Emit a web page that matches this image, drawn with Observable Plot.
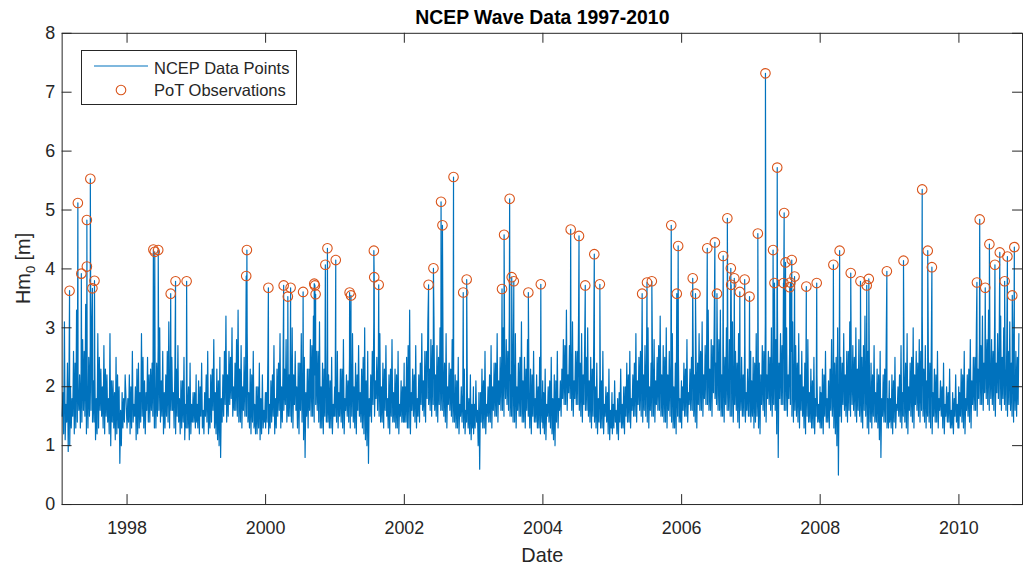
<!DOCTYPE html>
<html><head><meta charset="utf-8">
<script src="https://cdn.jsdelivr.net/npm/d3@7"></script>
<script src="https://cdn.jsdelivr.net/npm/@observablehq/plot@0.6"></script>
<style>
html,body{margin:0;padding:0;background:#fff;overflow:hidden;}
#wrap{position:relative;width:1024px;height:567px;overflow:hidden;font-family:"Liberation Sans",Arial,sans-serif;}
#legend{position:absolute;left:81px;top:50px;}
</style></head><body><div id="wrap"></div>
<script>
// Sampled Hm0 values (m), 4-day sampling from the start of each year (1997 from 24 Jan).
// "hm" holds the samples on days 0,12,16,28,32,44,... ; "bm" those on days 4,8,20,24,36,40,...
const hm1997 = [1.5,3.1,1.1,2.4,0.9,2.0,1.3,2.6,1.2,3.3, 1.4,2.2,1.3,2.8,1.6,3.4,1.2,2.5,1.5,3.0, 1.4,2.4,1.1,2.9,1.3,2.3,1.5,2.7,1.2,2.2, 1.4,2.9,1.0,2.1,1.3,2.5,1.2,2.0,0.7,1.9, 1.3,2.2];
const hm1998 = [1.3,2.2,1.2,2.6,1.4,2.0,1.1,2.4,1.3,2.9,1.5,2.1, 1.2,2.5,1.4,2.3,1.6,2.8,1.3,2.4,1.5,3.0, 1.4,2.6,1.2,2.2,1.5,3.1,1.3,2.5,1.6,2.3, 1.2,2.7,1.4,2.1,1.3,2.5,1.1,2.0,1.3,2.4, 1.2,1.9,1.4,2.2];
const hm1999 = [1.4,2.1,1.2,2.4,1.3,1.9,1.5,2.6,1.2,2.2,1.4,2.8, 1.3,2.3,1.1,2.5,0.8,2.2,1.5,3.2,1.4,2.6, 1.7,3.0,1.5,2.4,1.6,3.3,1.4,2.7,1.3,2.5, 1.5,2.9,1.4,2.3,1.2,2.6,1.3,2.0,1.2,2.4, 1.1,2.2,1.3,1.9];
const hm2000 = [1.3,2.5,1.2,2.1,1.4,2.7,1.2,2.3,1.5,2.9,1.3,2.4, 1.6,2.8,1.4,2.2,1.5,3.0,1.3,2.6,1.6,2.4, 1.2,2.9,1.4,2.5,0.8,2.3,1.3,2.8,1.5,3.2, 1.4,2.6,1.6,3.1,1.3,2.4,1.2,2.7,1.4,2.2, 1.3,2.5,1.2,2.0];
const hm2001 = [1.5,2.6,1.3,2.3,1.4,2.8,1.2,2.2,1.5,2.5,1.3,2.9, 1.4,2.4,1.2,2.7,1.5,2.3,1.3,3.0,1.1,2.6, 0.7,2.2,1.4,3.1,1.5,2.5,1.6,2.9,1.4,2.4, 1.3,2.7,1.5,2.2,1.2,2.8,1.4,2.3,1.3,2.6, 1.2,2.1,1.4,2.4];
const hm2002 = [1.4,2.5,1.3,3.3,1.2,2.3,1.5,2.7,1.3,2.2,1.4,2.9, 1.6,2.6,1.4,3.1,1.7,2.8,1.5,3.2,1.6,2.7, 1.4,3.0,1.6,2.5,1.5,2.9,1.3,2.4,1.6,2.8, 1.4,2.2,1.3,2.5,1.2,2.0,1.4,2.3,1.2,1.9, 1.3,2.2,1.1,2.0];
const hm2003 = [1.2,2.1,1.4,1.9,0.6,2.3,1.3,2.6,1.2,2.0,1.4,2.7, 1.3,2.4,1.5,2.9,1.4,2.5,1.6,3.0,1.5,2.8, 1.7,3.2,1.5,2.6,1.4,2.9,1.3,2.4,1.5,3.1, 1.4,2.5,1.3,2.8,1.5,2.3,1.2,2.6,1.4,2.2, 1.3,2.5,1.2,2.1];
const hm2004 = [1.3,2.3,1.1,2.0,1.4,2.5,1.2,2.2,1.0,2.6,1.3,2.1, 1.5,2.8,1.7,3.3,1.6,2.7,1.8,3.1,1.5,2.6, 1.7,3.2,1.6,2.9,1.4,2.7,1.6,3.0,1.5,2.5, 1.3,2.8,1.4,2.4,1.2,2.2,1.3,2.6,1.2,2.0, 1.4,2.3,1.1,1.9];
const hm2005 = [1.2,2.1,1.4,1.8,1.1,2.3,1.3,2.0,1.2,2.4,1.4,2.6, 1.3,2.2,1.5,2.9,1.4,2.5,1.6,3.1,1.4,2.7, 1.5,3.0,1.3,2.4,1.5,2.8,1.4,2.5,1.6,3.2, 1.5,2.7,1.4,3.0,1.3,2.6,1.5,2.9,1.3,2.4, 1.2,2.5,1.4,2.1];
const hm2006 = [1.3,2.4,1.5,2.8,1.4,2.3,1.6,3.0,1.5,2.6,1.3,2.9, 1.6,3.1,1.5,2.7,1.7,3.3,1.6,2.8,1.5,3.2, 1.8,2.9,1.6,3.3,1.5,2.7,1.4,3.0,1.6,2.8, 1.5,3.1,1.4,2.6,1.6,2.9,1.3,2.5,1.5,2.7, 1.4,2.3,1.5,2.6];
const hm2007 = [1.4,2.5,1.3,2.9,1.5,2.4,1.2,2.7,1.6,3.1,1.4,2.6, 1.7,3.0,1.5,2.8,1.6,3.3,0.8,2.9,1.7,3.2, 1.6,3.0,1.5,2.6,1.7,3.1,1.4,2.7,1.5,2.9, 1.3,2.6,1.5,2.4,1.2,2.8,1.4,2.3,1.3,2.5, 1.2,2.2,1.4,2.0];
const hm2008 = [1.3,2.3,1.2,2.6,1.4,2.1,1.3,2.8,1.5,2.4,1.2,3.0, 0.5,2.5,1.4,2.9,1.6,2.6,1.4,3.1,1.5,2.7, 1.6,3.0,1.4,2.8,1.5,2.5,1.3,3.2,1.5,2.6, 1.2,2.4,1.3,2.7,1.4,2.3,1.3,2.6,0.8,2.2, 1.4,2.8,1.3,2.1];
const hm2009 = [1.4,2.2,1.2,2.5,1.3,2.0,1.5,2.7,1.3,2.3,1.4,2.9, 1.2,2.4,1.5,3.0,1.3,2.6,1.6,2.8,1.4,3.2, 1.5,2.7,1.3,2.5,1.4,2.9,1.2,2.3,1.4,2.6, 1.3,2.1,1.5,2.4,1.2,2.0,1.4,2.3,1.3,1.9, 1.2,2.2,1.4,2.0];
const hm2010 = [1.3,2.3,1.4,2.6,1.2,2.2,1.5,2.8,1.3,2.5,1.6,3.0, 1.5,2.7,1.7,3.2,1.6,2.9,1.8,3.3,1.6,2.8, 1.7,3.1,1.5,2.9,1.8,3.2,1.6,3.0,1.7,2.7, 1.5,3.1,1.6,2.8,1.4,2.6,1.5,2.9];

const bm1997 = [1.9,1.2,1.7,1.4,2.2,1.0,1.8,1.5,2.4,1.3, 1.9,1.6,2.3,1.4,2.6,1.5,2.0,1.3,2.7,1.6, 2.1,1.4,1.8,1.2,2.5,1.6,2.0,1.3,2.3,1.5, 1.8,1.2,2.1,1.4,1.9,1.1,2.2,1.3,1.6,1.0, 1.8,1.4];
const bm1998 = [1.8,1.4,2.0,1.3,1.7,1.5,2.3,1.2,1.9,1.4,2.5,1.3, 1.9,1.6,2.2,1.4,2.4,1.5,2.0,1.3,2.7,1.6, 2.1,1.5,1.9,1.3,2.6,1.4,2.2,1.6,1.9,1.3, 2.3,1.5,1.8,1.2,2.1,1.4,1.7,1.3,2.0,1.1, 1.7,1.4,1.9,1.3];
const bm1999 = [1.7,1.3,2.0,1.5,1.6,1.2,2.2,1.4,1.8,1.3,2.3,1.6, 1.9,1.2,2.1,1.0,1.8,1.4,2.6,1.7,2.2,1.5, 2.5,1.8,2.0,1.6,2.8,1.5,2.3,1.4,2.0,1.6, 2.4,1.5,1.9,1.3,2.2,1.4,1.7,1.2,2.0,1.3, 1.8,1.2,1.6,1.4];
const bm2000 = [1.9,1.4,1.7,1.3,2.2,1.5,1.8,1.3,2.4,1.6,2.0,1.4, 2.3,1.7,1.9,1.5,2.6,1.4,2.2,1.7,2.0,1.3, 2.4,1.6,2.1,1.1,1.9,1.5,2.3,1.6,2.7,1.5, 2.2,1.7,2.6,1.4,2.0,1.3,2.3,1.5,1.8,1.4, 2.1,1.3,1.7,1.5];
const bm2001 = [2.1,1.4,1.9,1.5,2.3,1.3,1.8,1.6,2.1,1.4,2.4,1.5, 2.0,1.3,2.2,1.6,1.9,1.4,2.5,1.2,2.1,1.0, 1.8,1.5,2.6,1.7,2.1,1.8,2.4,1.5,2.0,1.4, 2.3,1.6,1.8,1.3,2.3,1.5,1.9,1.4,2.2,1.3, 1.7,1.5,2.0,1.4];
const bm2002 = [2.0,1.4,2.7,1.3,1.9,1.6,2.2,1.4,1.8,1.5,2.4,1.7, 2.1,1.5,2.6,1.8,2.3,1.6,2.7,1.7,2.2,1.5, 2.5,1.7,2.1,1.6,2.4,1.4,2.0,1.7,2.3,1.5, 1.9,1.4,2.1,1.3,1.7,1.5,1.9,1.3,1.6,1.4, 1.8,1.2,1.7,1.3];
const bm2003 = [1.7,1.3,1.6,1.0,1.9,1.4,2.1,1.3,1.7,1.5,2.2,1.4, 2.0,1.6,2.4,1.5,2.1,1.7,2.5,1.6,2.3,1.8, 2.6,1.6,2.2,1.5,2.4,1.4,2.0,1.6,2.5,1.5, 2.1,1.4,2.3,1.6,1.9,1.3,2.2,1.5,1.8,1.4, 2.0,1.3,1.7,1.4];
const bm2004 = [1.9,1.2,1.7,1.5,2.1,1.3,1.8,1.1,2.1,1.4,1.8,1.6, 2.3,1.8,2.7,1.7,2.2,1.9,2.6,1.6,2.1,1.8, 2.6,1.7,2.4,1.5,2.2,1.7,2.5,1.6,2.1,1.4, 2.3,1.5,2.0,1.3,1.8,1.4,2.1,1.3,1.7,1.5, 1.9,1.2,1.6,1.3];
const bm2005 = [1.7,1.3,1.6,1.2,1.9,1.4,1.7,1.3,2.0,1.5,2.2,1.4, 1.8,1.6,2.4,1.5,2.1,1.7,2.6,1.5,2.2,1.6, 2.5,1.4,2.0,1.6,2.3,1.5,2.1,1.7,2.7,1.6, 2.2,1.5,2.5,1.4,2.2,1.6,2.4,1.4,2.0,1.3, 2.1,1.5,1.8,1.4];
const bm2006 = [2.0,1.6,2.3,1.5,1.9,1.7,2.5,1.6,2.2,1.4,2.4,1.7, 2.6,1.6,2.2,1.8,2.8,1.7,2.3,1.6,2.7,1.9, 2.4,1.7,2.8,1.6,2.2,1.5,2.5,1.7,2.3,1.6, 2.6,1.5,2.2,1.7,2.4,1.4,2.1,1.6,2.2,1.5, 1.9,1.6,2.2,1.5];
const bm2007 = [2.1,1.5,2.4,1.4,2.0,1.3,2.2,1.7,2.6,1.5,2.2,1.8, 2.5,1.6,2.3,1.7,2.8,1.2,2.4,1.8,2.7,1.7, 2.5,1.6,2.2,1.8,2.6,1.5,2.3,1.6,2.4,1.4, 2.2,1.6,2.0,1.3,2.3,1.5,1.9,1.4,2.1,1.3, 1.8,1.5,1.7,1.4];
const bm2008 = [1.9,1.3,2.2,1.5,1.8,1.4,2.3,1.6,2.0,1.3,2.5,1.0, 2.1,1.5,2.4,1.7,2.2,1.5,2.6,1.6,2.3,1.7, 2.5,1.5,2.3,1.6,2.1,1.4,2.7,1.6,2.2,1.3, 2.0,1.4,2.2,1.5,1.9,1.4,2.2,1.1,1.8,1.5, 2.3,1.4,1.8,1.3];
const bm2009 = [1.8,1.3,2.1,1.4,1.7,1.6,2.2,1.4,1.9,1.5,2.4,1.3, 2.0,1.6,2.5,1.4,2.2,1.7,2.4,1.5,2.6,1.6, 2.3,1.4,2.1,1.5,2.4,1.3,1.9,1.5,2.2,1.4, 1.8,1.6,2.0,1.3,1.7,1.5,1.9,1.4,1.6,1.3, 1.8,1.5,1.7,1.3];
const bm2010 = [1.9,1.5,2.2,1.3,1.8,1.6,2.3,1.4,2.1,1.7,2.5,1.6, 2.3,1.8,2.7,1.7,2.4,1.9,2.8,1.7,2.4,1.8, 2.6,1.6,2.4,1.9,2.7,1.7,2.5,1.8,2.3,1.6, 2.6,1.7,2.4,1.5,2.2,1.6,2.5,1.7];

// Peak-over-threshold observations (decimal year, Hm0)
const potYear = [1997.17,1997.29,1997.34,1997.42,1997.42,1997.47,1997.53,1997.50,
 1998.38,1998.40,1998.45,1998.63,1998.70,1998.86,
 1999.72,1999.73,
 2000.04,2000.26,2000.32,2000.36,2000.54,2000.70,2000.71,2000.72,2000.86,2000.89,
 2001.01,2001.21,2001.23,2001.56,2001.565,2001.63,
 2002.35,2002.42,2002.53,2002.55,2002.71,2002.85,2002.90,
 2003.41,2003.44,2003.52,2003.55,2003.58,2003.79,2003.97,
 2004.40,2004.52,2004.61,2004.74,2004.82,
 2005.43,2005.50,2005.57,2005.85,2005.93,2005.95,
 2006.16,2006.20,2006.37,2006.48,2006.51,2006.60,2006.66,2006.71,2006.76,2006.715,2006.84,2006.91,2006.98,
 2007.10,2007.21,2007.32,2007.34,2007.38,2007.47,2007.48,2007.50,2007.59,2007.57,2007.56,2007.63,2007.80,2007.95,
 2008.19,2008.28,2008.44,2008.58,2008.67,2008.70,2008.96,
 2009.20,2009.47,2009.55,2009.61,
 2010.26,2010.30,2010.38,2010.44,2010.52,2010.59,2010.66,2010.70,2010.80,2010.77];
const potHm = [3.63,5.12,3.92,4.04,4.83,5.53,3.80,3.67,
 4.33,4.29,4.32,3.58,3.79,3.79,
 3.88,4.32,
 3.68,3.72,3.53,3.68,3.61,3.75,3.72,3.57,4.07,4.35,
 4.15,3.60,3.55,4.31,3.86,3.73,
 3.73,4.01,5.14,4.74,5.56,3.60,3.82,
 3.66,4.58,5.19,3.86,3.79,3.60,3.74,
 4.67,4.56,3.72,4.25,3.74,
 3.58,3.77,3.79,4.74,3.58,4.39,
 3.84,3.58,4.35,4.45,3.58,4.22,4.86,4.01,3.84,3.73,3.61,3.82,3.53,
 4.60,7.32,4.32,3.76,5.72,3.76,4.95,4.11,4.15,3.77,3.69,3.87,3.70,3.76,
 4.07,4.31,3.93,3.79,3.72,3.83,3.96,
 4.14,5.35,4.31,4.03,
 3.77,4.84,3.68,4.42,4.07,4.28,3.79,4.21,4.37,3.55];

const tickYears = [1998,2000,2002,2004,2006,2008,2010];
const yTicks = [0,1,2,3,4,5,6,7,8];
const titleText = "NCEP Wave Data 1997-2010";
const xLabel = "Date";

// ---- build tables ----
const yearSeries = [[1997,hm1997,bm1997],[1998,hm1998,bm1998],[1999,hm1999,bm1999],[2000,hm2000,bm2000],[2001,hm2001,bm2001],[2002,hm2002,bm2002],[2003,hm2003,bm2003],[2004,hm2004,bm2004],[2005,hm2005,bm2005],[2006,hm2006,bm2006],[2007,hm2007,bm2007],[2008,hm2008,bm2008],[2009,hm2009,bm2009],[2010,hm2010,bm2010]];
const samples = [];
for (const [yr, a, b] of yearSeries) {
  const start = yr === 1997 ? 23 : 0;
  a.forEach((v, i) => samples.push({date: new Date(Date.UTC(yr, 0, 1 + start + 8 * i + (i % 2 ? 4 : 0))), hm: v}));
  b.forEach((v, i) => samples.push({date: new Date(Date.UTC(yr, 0, 1 + start + 8 * i + (i % 2 ? 0 : 4))), hm: v}));
}
const decToDate = y => { const Y = Math.floor(y); const a = Date.UTC(Y,0,1), b = Date.UTC(Y+1,0,1); return new Date(a + (y - Y) * (b - a)); };
const pot = potYear.map((y, i) => ({date: decToDate(y), hm: potHm[i]}));
const lineData = samples.concat(pot).sort((a, b) => a.date - b.date);

const W = 1030, H = 567, mL = 62, mR = 2, mT = 33, mB = 60;
const innerW = W - mL - mR, innerH = H - mT - mB;
const xTicks = tickYears.map(y => new Date(Date.UTC(y, 0, 1)));
const ink = "#262626";

const plot = Plot.plot({
  width: W, height: H,
  marginLeft: mL, marginRight: mR, marginTop: mT, marginBottom: mB,
  style: {fontFamily: "Liberation Sans, Arial, sans-serif", fontSize: "18px", color: ink, background: "white", overflow: "visible"},
  x: {type: "utc", domain: [new Date(Date.UTC(1997,0,24)), new Date(Date.UTC(2010,11,2))]},
  y: {domain: [0, 8]},
  marks: [
    Plot.line(lineData, {x: "date", y: "hm", stroke: "#0072BD", strokeWidth: 1.2}),
    Plot.dot(pot, {x: "date", y: "hm", r: 4.8, stroke: "#D95319", strokeWidth: 1.1, fill: "none"}),
    Plot.frame({stroke: ink, strokeWidth: 1}),
    Plot.ruleX(xTicks, {insetTop: innerH - 10, stroke: ink}),
    Plot.ruleX(xTicks, {insetBottom: innerH - 10, stroke: ink}),
    Plot.ruleY(yTicks, {insetRight: innerW - 10, stroke: ink}),
    Plot.ruleY(yTicks, {insetLeft: innerW - 10, stroke: ink}),
    Plot.axisX(xTicks, {tickSize: 0, tickPadding: 17, tickFormat: d3.utcFormat("%Y"), label: null, fill: ink}),
    Plot.axisY(yTicks, {tickSize: 0, tickPadding: 7, tickFormat: d3.format("d"), label: null, fill: ink}),
    Plot.text([xLabel], {frameAnchor: "bottom", lineAnchor: "middle", dy: 51, fontSize: 20, fill: ink}),
    Plot.text([titleText], {frameAnchor: "top", lineAnchor: "middle", dy: -16, fontSize: 19.5, fontWeight: "bold", fill: "#000"})
  ]
});

// y-axis label with subscript
const svg = d3.select(plot);
const yl = svg.append("text")
  .attr("transform", "translate(30,270) rotate(-90)")
  .attr("text-anchor", "middle")
  .attr("font-size", 20)
  .attr("fill", ink);
yl.append("tspan").text("Hm");
yl.append("tspan").attr("font-size", 13).attr("dy", 5).text("0");
yl.append("tspan").attr("dy", -5).text(" [m]");

const wrap = document.getElementById("wrap");
wrap.appendChild(plot);

// legend
const lg = d3.select(wrap).append("svg").attr("id", "legend").attr("width", 217).attr("height", 56)
  .style("font-family", "Liberation Sans, Arial, sans-serif");
lg.append("rect").attr("x", 0.5).attr("y", 0.5).attr("width", 215).attr("height", 54).attr("fill", "white").attr("stroke", ink);
lg.append("line").attr("x1", 13).attr("x2", 67).attr("y1", 16).attr("y2", 16).attr("stroke", "#0072BD").attr("stroke-width", 1.2);
lg.append("circle").attr("cx", 40).attr("cy", 40).attr("r", 4.8).attr("fill", "none").attr("stroke", "#D95319").attr("stroke-width", 1.1);
lg.append("text").attr("x", 73).attr("y", 18).attr("dy", "0.35em").attr("font-size", 16.5).attr("fill", ink).text("NCEP Data Points");
lg.append("text").attr("x", 73).attr("y", 40).attr("dy", "0.35em").attr("font-size", 16.5).attr("fill", ink).text("PoT Observations");
</script>
</body></html>
